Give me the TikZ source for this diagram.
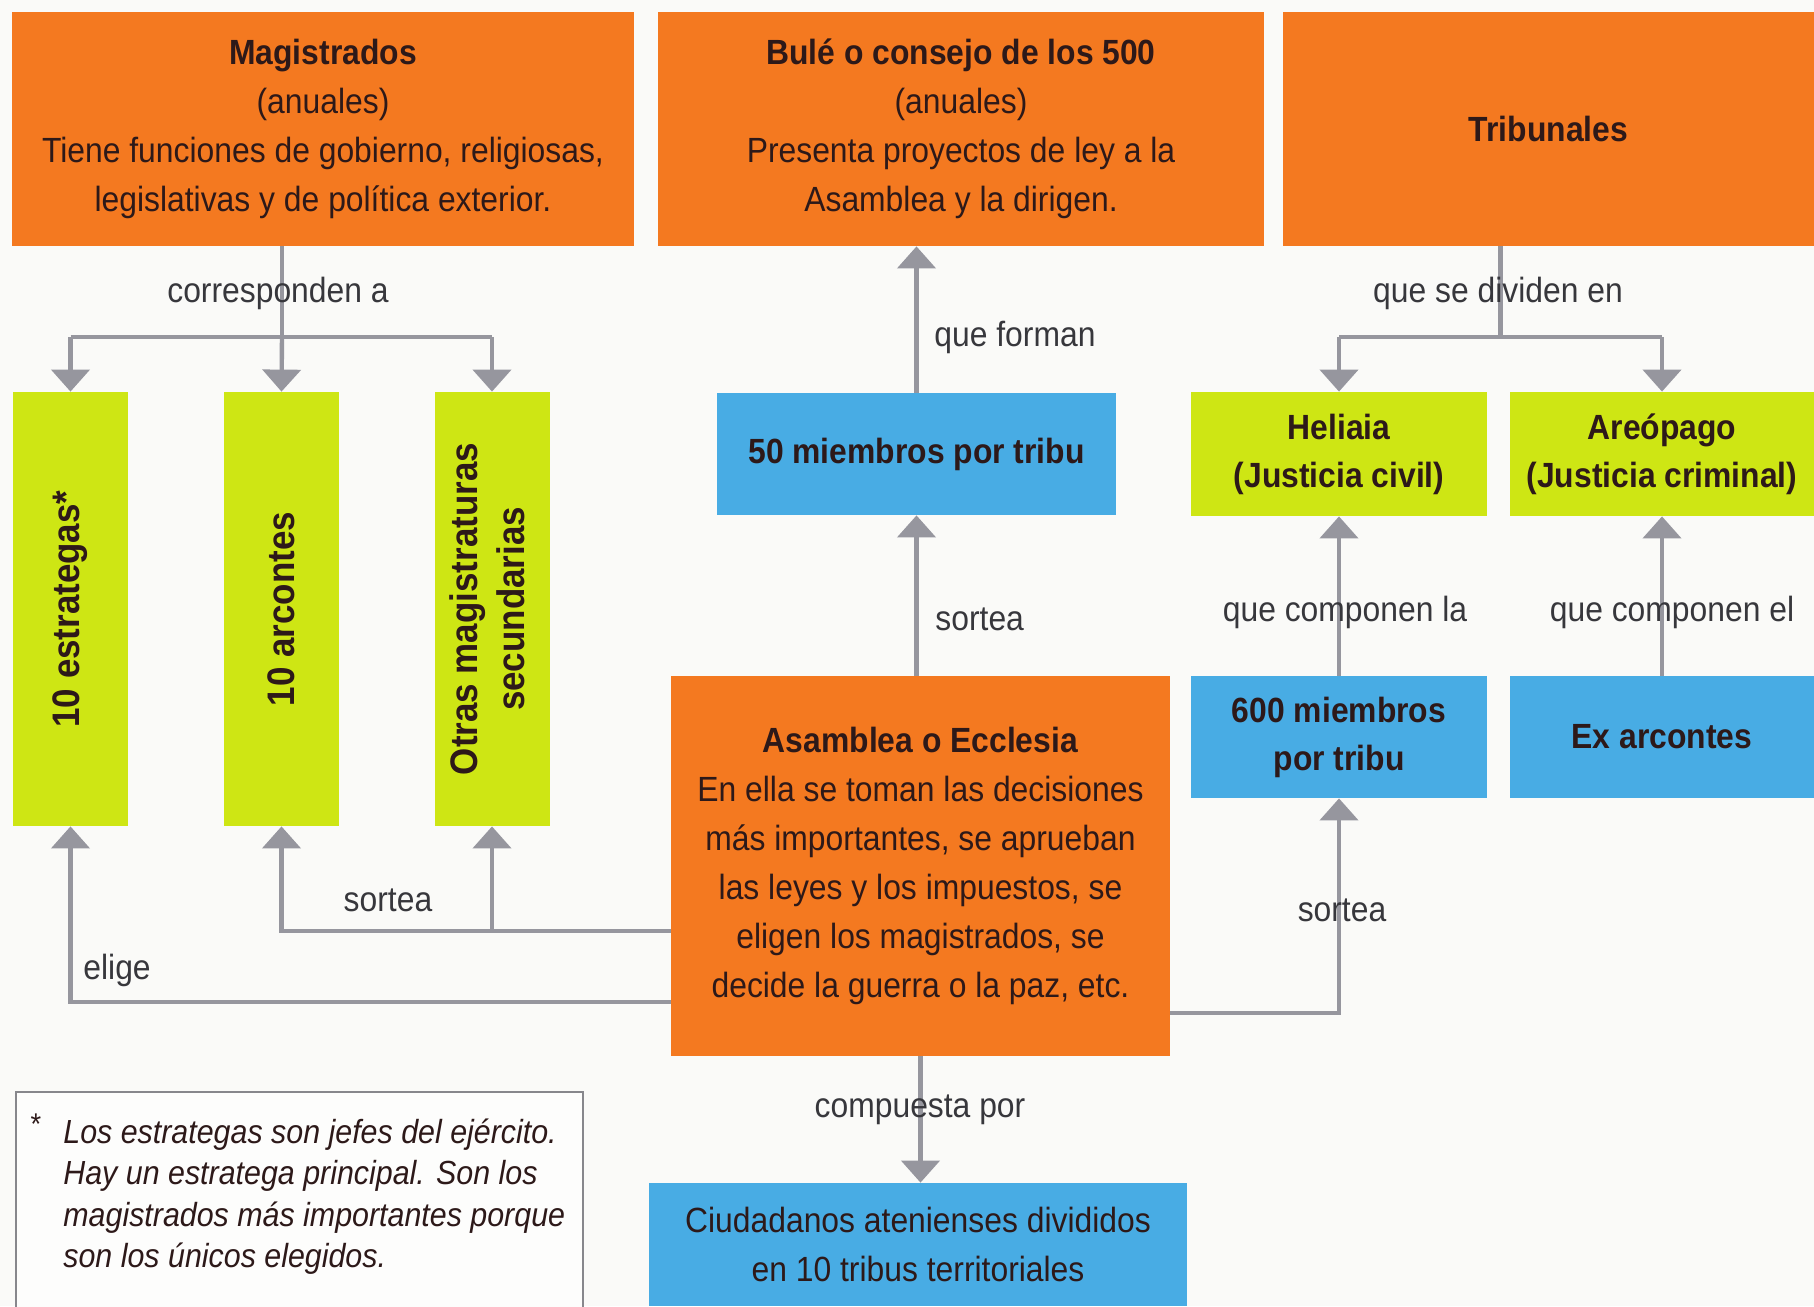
\documentclass[tikz,border=0pt]{standalone}
\usepackage{fontspec}
\setmainfont{Liberation Sans}[FakeStretch=0.91]
\usetikzlibrary{arrows.meta}
\definecolor{ocol}{RGB}{244,121,32}
\definecolor{gcol}{RGB}{206,230,20}
\definecolor{bcol}{RGB}{72,172,228}
\definecolor{conn}{RGB}{150,150,158}
\definecolor{bgc}{RGB}{250,250,248}
\definecolor{ink}{RGB}{45,25,25}
\definecolor{lab}{RGB}{55,55,60}
\definecolor{notec}{RGB}{135,135,140}
\begin{document}
\begin{tikzpicture}[x=0.5pt,y=-0.5pt,
  box/.style={inner sep=0pt, align=center, text=ink, font=\fontsize{17.5}{24.5}\selectfont},
  obox/.style={box, fill=ocol, minimum height=117pt},
  gbox/.style={box, fill=gcol},
  bbox/.style={box, fill=bcol},
  vbox/.style={gbox, minimum width=57.5pt, minimum height=217pt, font=\fontsize{19.2}{23.5}\selectfont\bfseries},
  con/.style={draw=conn, line width=2.2pt},
  arr/.style={con, -{Triangle[width=19pt,length=11pt]}},
  lbl/.style={inner sep=0pt, text=lab, font=\fontsize{17.5}{24.5}\selectfont}
]
\useasboundingbox (0,0) rectangle (1814,1306);
\clip (0,0) rectangle (1814,1306);
\fill[bgc] (0,0) rectangle (1814,1306);

% top row
\node[obox, minimum width=311pt] (mag) at (323,129)
  {\textbf{Magistrados}\\(anuales)\\Tiene funciones de gobierno, religiosas,\\legislativas y de política exterior.};
\node[obox, minimum width=303pt] (bule) at (961,129)
  {\textbf{Bulé o consejo de los 500}\\(anuales)\\Presenta proyectos de ley a la\\Asamblea y la dirigen.};
\node[obox, minimum width=265.5pt] (trib) at (1548.5,129) {\textbf{Tribunales}};

% magistracies
\node[vbox] (estr) at (70.5,609) {\rotatebox{90}{10 estrategas*}};
\node[vbox] (arc) at (281.5,609) {\rotatebox{90}{10 arcontes}};
\node[vbox] (otras) at (492,609)
  {\rotatebox{90}{\begin{tabular}{@{}c@{}}Otras magistraturas\\secundarias\end{tabular}}};

% centre column
\node[bbox, minimum width=199.5pt, minimum height=61pt, font=\fontsize{17.5}{24.5}\selectfont\bfseries] (cin) at (916.5,454) {50 miembros por tribu};
\node[obox, minimum width=249.5pt, minimum height=190pt] (asam) at (920.5,866)
  {\textbf{Asamblea o Ecclesia}\\En ella se toman las decisiones\\más importantes, se aprueban\\las leyes y los impuestos, se\\eligen los magistrados, se\\decide la guerra o la paz, etc.};
\node[bbox, minimum width=269pt, minimum height=61.5pt] (ciud) at (918,1244.5)
  {Ciudadanos atenienses divididos\\en 10 tribus territoriales};

% courts
\node[gbox, minimum width=148pt, minimum height=62pt, font=\fontsize{17.5}{24}\selectfont\bfseries] (hel) at (1339,454) {Heliaia\\(Justicia civil)};
\node[gbox, minimum width=152pt, minimum height=62pt, font=\fontsize{17.5}{24}\selectfont\bfseries] (are) at (1662,454) {Areópago\\(Justicia criminal)};
\node[bbox, minimum width=148pt, minimum height=61pt, font=\fontsize{17.5}{24}\selectfont\bfseries] (seis) at (1339,737) {600 miembros\\por tribu};
\node[bbox, minimum width=152pt, minimum height=61pt, font=\fontsize{17.5}{24}\selectfont\bfseries] (exa) at (1662,737) {Ex arcontes};

% junction coordinates
\coordinate (jm) at (282,337);
\coordinate (jt) at (1500.5,337);
\coordinate (ly1) at (0,931);
\coordinate (ly2) at (0,1002);
\coordinate (ry) at (0,1013);

% connectors
\draw[con] (mag.south -| jm) -- (jm);
\draw[con] (estr.north |- jm) -- (otras.north |- jm);
\draw[arr] (jm) -- (arc.north);
\draw[arr] (estr.north |- jm) -- (estr.north);
\draw[arr] (otras.north |- jm) -- (otras.north);

\draw[arr] (cin.north) -- (cin.north |- bule.south);
\draw[arr] (cin.south |- asam.north) -- (cin.south);

\draw[con] (trib.south -| jt) -- (jt);
\draw[con] (hel.north |- jt) -- (are.north |- jt);
\draw[arr] (hel.north |- jt) -- (hel.north);
\draw[arr] (are.north |- jt) -- (are.north);

\draw[arr] (seis.north) -- (hel.south);
\draw[arr] (exa.north) -- (are.south);

\draw[arr] (asam.east |- ry) -| (seis.south);
\draw[arr] (asam.west |- ly1) -| (arc.south);
\draw[arr] (otras.south |- ly1) -- (otras.south);
\draw[arr] (asam.west |- ly2) -| (estr.south);
\draw[arr] (asam.south) -- (asam.south |- ciud.north);

% connector labels
\node[lbl] (l1) at (278,293) {corresponden a};
\node[lbl, anchor=west] (l2) at (934,337) {que forman};
\node[lbl, anchor=west] (l3) at (935,619) {sortea};
\node[lbl] (l4) at (1498,293) {que se dividen en};
\node[lbl] (l5) at (1345,612) {que componen la};
\node[lbl] (l6) at (1672,612) {que componen el};
\node[lbl] (l7) at (1342,910) {sortea};
\node[lbl] (l8) at (388,900) {sortea};
\node[lbl, anchor=west] (l9) at (83,970) {elige};
\node[lbl] (l10) at (920,1110) {compuesta por};

% footnote
\draw[notec, line width=1pt, fill=white!60!bgc] (16,1092) rectangle (583,1330);
\node[inner sep=0pt, text=ink, font=\fontsize{15}{18}\selectfont] (ast) at (36,1124) {*};
\node[inner sep=0pt, anchor=north west, align=left, text=ink, font=\fontsize{16.7}{20.75}\selectfont\itshape] (nt) at (63,1118)
  {Los estrategas son jefes del ejército.\\Hay un estratega principal. Son los\\magistrados más importantes porque\\son los únicos elegidos.};
\end{tikzpicture}
\end{document}
